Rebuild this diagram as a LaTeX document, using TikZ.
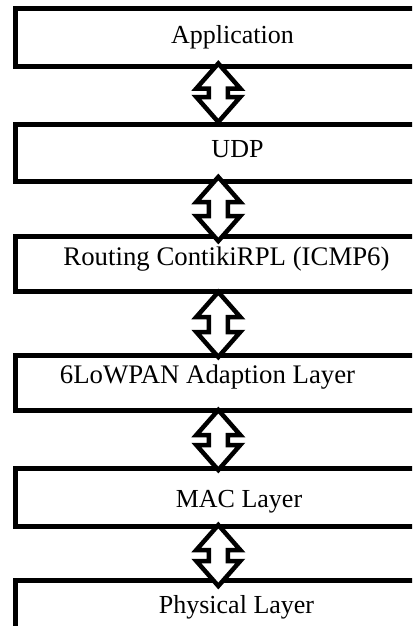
\documentclass[tikz,border=0pt]{standalone}
\usepackage{fontspec}
\setmainfont{Liberation Serif}
\usetikzlibrary{calc}
\tikzset{
  layer/.style={draw=black, line width=5pt, rectangle, anchor=north west,
    minimum width=440pt, inner sep=0pt, outer sep=0pt, fill=white},
  label/.style={anchor=base, inner sep=0pt, font=\fontsize{26}{30}\selectfont},
  biglabel/.style={label, font=\fontsize{26.8}{30}\selectfont},
  blockarrow/.style={draw=black, fill=white, line width=4.5pt, line join=miter}
}
\newcommand{\layerlink}[2]{%
  \draw[blockarrow] let \p1=(#1), \p2=(#2) in
    (\x1,\y1) -- (\x1-22pt,\y1-25pt) -- (\x1-9.5pt,\y1-25pt) -- (\x1-9.5pt,\y2+25pt)
    -- (\x1-22pt,\y2+25pt) -- (\x2,\y2) -- (\x1+22pt,\y2+25pt) -- (\x1+9.5pt,\y2+25pt)
    -- (\x1+9.5pt,\y1-25pt) -- (\x1+22pt,\y1-25pt) -- cycle;}
\begin{document}
\begin{tikzpicture}[x=1pt,y=-1pt]
\useasboundingbox (0,0) rectangle (412,626);
\clip (0,0) rectangle (412,626);
\fill[white] (0,0) rectangle (412,626);
% layers
\node[layer, minimum height=57.5pt] (b1) at (15.8,9) {};
\node[layer, minimum height=57.5pt] (b2) at (15.8,124) {};
\node[layer, minimum height=55pt] (b3) at (15.8,236) {};
\node[layer, minimum height=55pt] (b4) at (15.8,355) {};
\node[layer, minimum height=58.5pt] (b5) at (15.8,468) {};
\node[layer, minimum height=80pt] (b6) at (15.8,580) {};
% arrow end points
\coordinate (a1t) at (218.3,63.5);  \coordinate (a1b) at (218.3,122);
\coordinate (a2t) at (218.3,177);   \coordinate (a2b) at (218.3,241);
\coordinate (a3t) at (218.3,292);   \coordinate (a3b) at (218.3,357);
\coordinate (a4t) at (218.3,410);   \coordinate (a4b) at (218.3,470);
\coordinate (a5t) at (218.3,525);   \coordinate (a5b) at (218.3,586);
\layerlink{a1t}{a1b}
\layerlink{a2t}{a2b}
\layerlink{a3t}{a3b}
\layerlink{a4t}{a4b}
\layerlink{a5t}{a5b}
% texts
\node[label] (t1) at (232.5,44) {Application};
\node[label] (t2) at (237.5,157) {UDP};
\node[biglabel] (t3) at (226.5,265) {Routing ContikiRPL (ICMP6)};
\node[biglabel] (t4) at (207.5,383) {6LoWPAN Adaption Layer};
\node[label] (t5) at (239,507) {MAC Layer};
\node[label] (t6) at (236.5,613) {Physical Layer};
\end{tikzpicture}
\end{document}
